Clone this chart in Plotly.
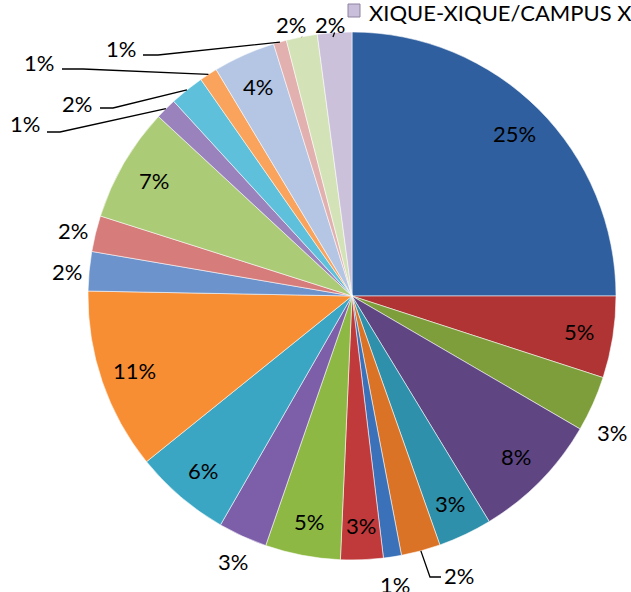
import math
import plotly.graph_objects as go

# Dados (sentido horário a partir das 12h)
campi = [
    "Campus 1", "Campus 2", "Campus 3", "Campus 4", "Campus 5", "Campus 6",
    "Campus 7", "Campus 8", "Campus 9", "Campus 10", "Campus 11", "Campus 12",
    "Campus 13", "Campus 14", "Campus 15", "Campus 16", "Campus 17", "Campus 18",
    "Campus 19", "Campus 20", "Campus 21", "XIQUE-XIQUE/CAMPUS XIQUE-XIQUE",
]
valores = [25.0, 5.0, 3.4, 7.9, 3.3, 2.4, 1.1, 2.6, 4.6, 3.0, 5.9, 11.1,
           2.4, 2.2, 7.0, 1.3, 2.1, 1.1, 3.8, 0.8, 1.9, 2.1]
cores = [
    "#2F5F9E", "#B03434", "#7E9E3C", "#5F4683", "#2E90AA", "#DA7326",
    "#3A71B8", "#C0393B", "#8DB843", "#7D5EA8", "#3AA6C3", "#F88E33",
    "#6C93CC", "#D67C7A", "#ABCB76", "#9A83BC", "#5EC0DA", "#F9A35C",
    "#B4C6E4", "#E2B0AF", "#D3E3B7", "#CCC1DA",
]

# Geometria (pixels da figura 631x592)
W, H = 631, 592
CX, CY, R = 352, 296, 264
FONTE = dict(family="Lato", size=22, color="black")

# Rótulos externos: posição do texto e pontos da linha de chamada (lado do texto)
rotulos_fora = {
    2: dict(pos=(612, 432)),
    5: dict(pos=(459, 575), linha=[(441, 577), (430, 577)]),
    6: dict(pos=(395, 584)),
    9: dict(pos=(233, 561)),
    12: dict(pos=(67, 271)),
    13: dict(pos=(73, 231)),
    15: dict(pos=(25, 124), linha=[(47, 132), (60, 132)]),
    16: dict(pos=(77, 103), linha=[(100, 108), (113, 108)]),
    17: dict(pos=(39, 63), linha=[(62, 69), (83, 69)]),
    19: dict(pos=(121, 48), linha=[(143, 55), (158, 55)]),
    20: dict(pos=(291, 25), linha=[(302, 37)]),
    21: dict(pos=(330, 25), linha=[(333, 37)]),
}


def px(x):
    return x / W


def py(y):
    return 1 - y / H


fig = go.Figure(go.Pie(
    labels=campi,
    values=valores,
    sort=False,
    direction="clockwise",
    rotation=0,
    marker=dict(colors=cores, line=dict(color="rgba(255,255,255,0.55)", width=1)),
    textinfo="none",
    domain=dict(x=[px(CX - R), px(CX + R)], y=[py(CY + R), py(CY - R)]),
    showlegend=False,
    hoverinfo="label+percent",
))

total = sum(valores)
acum = 0
for i, v in enumerate(valores):
    ang = math.radians(360 * (acum + v / 2) / total)
    acum += v
    texto = f"{round(100 * v / total)}%"
    if i in rotulos_fora:
        info = rotulos_fora[i]
        tx, ty = info["pos"]
        if "linha" in info:
            borda = (CX + R * math.sin(ang), CY - R * math.cos(ang))
            pts = info["linha"] + [borda]
            caminho = "M " + " L ".join(f"{px(a):.5f},{py(b):.5f}" for a, b in pts)
            fig.add_shape(type="path", xref="paper", yref="paper", path=caminho,
                          line=dict(color="black", width=1.3))
    else:
        tx = CX + 0.87 * R * math.sin(ang)
        ty = CY - 0.87 * R * math.cos(ang)
    fig.add_annotation(text=texto, xref="paper", yref="paper", x=px(tx), y=py(ty),
                       xanchor="center", yanchor="middle", showarrow=False, font=FONTE)

# Legenda (apenas a última entrada visível no recorte)
fig.add_shape(type="rect", xref="paper", yref="paper",
              x0=px(348), x1=px(360), y0=py(17), y1=py(4),
              fillcolor="#C9BFDA", line=dict(color="#8E82A0", width=1))
fig.add_annotation(text="XIQUE-XIQUE/CAMPUS XIQUE-XIQUE", xref="paper", yref="paper",
                   x=px(367), y=py(12), xanchor="left", yanchor="middle",
                   showarrow=False, font=FONTE)

fig.update_layout(
    width=W, height=H,
    margin=dict(l=0, r=0, t=0, b=0),
    paper_bgcolor="white",
    plot_bgcolor="white",
)

fig.write_html("out.html", config={"displayModeBar": False},
               post_script="document.body.style.margin='0';")
